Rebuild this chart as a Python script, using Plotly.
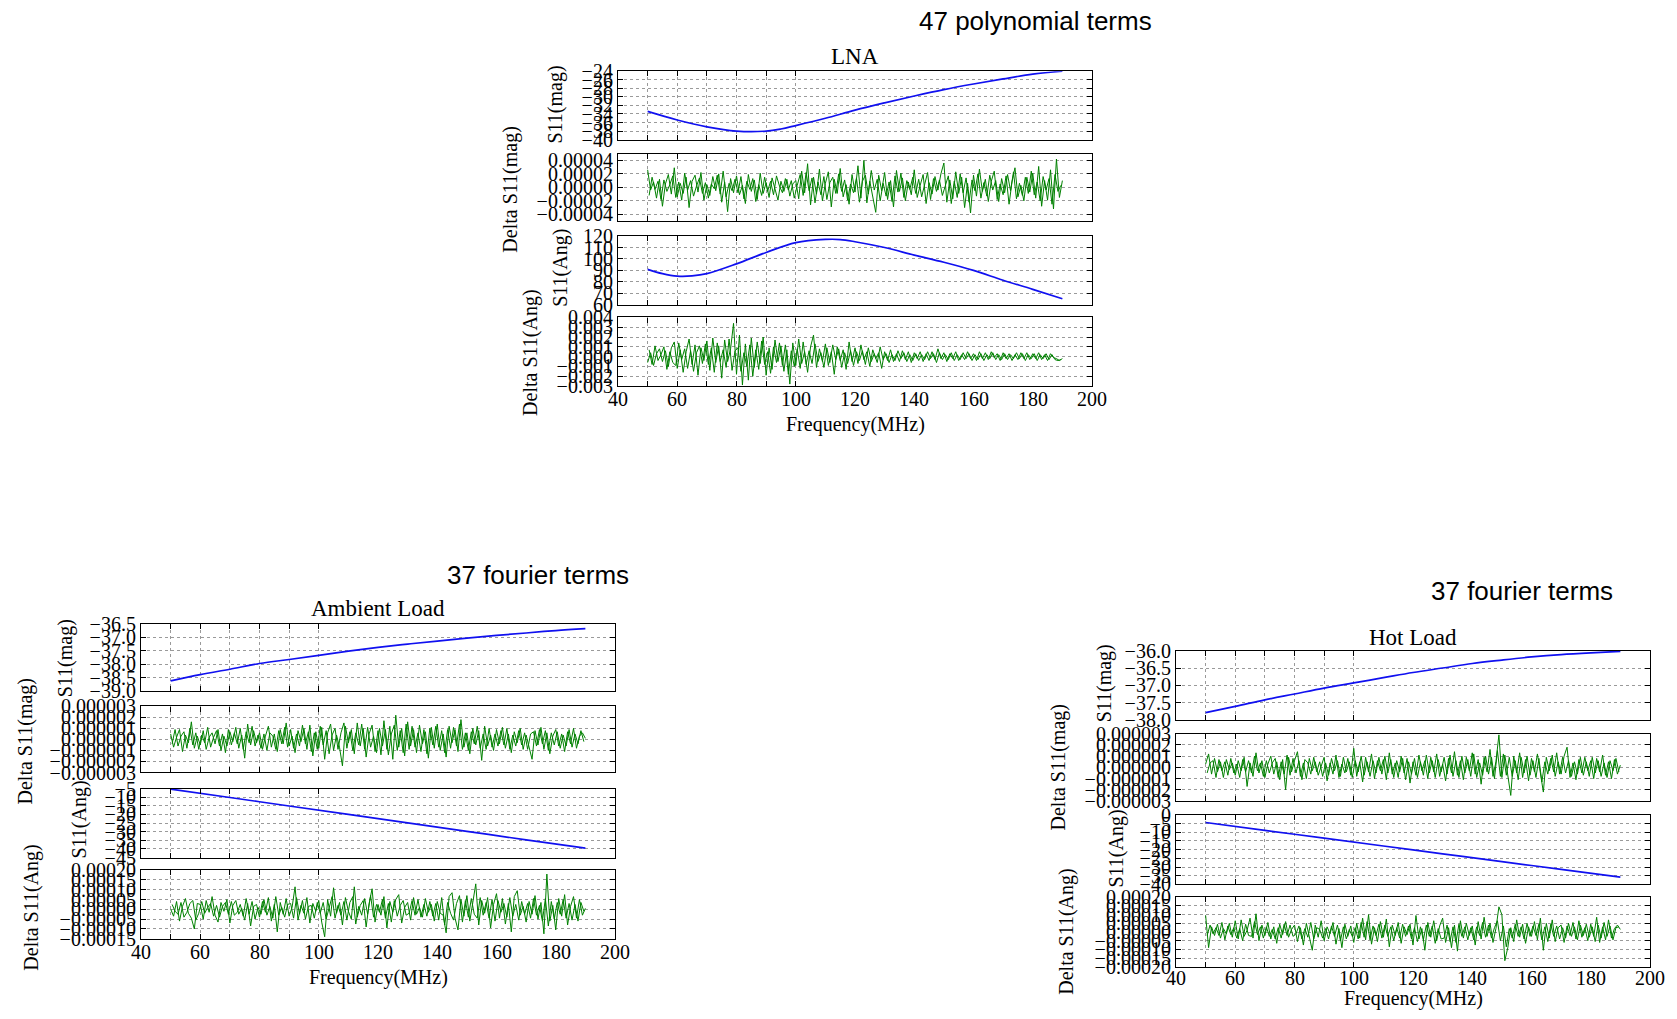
import plotly.graph_objects as go

# ---------------- data ----------------
# residual samples: at whole MHz (50..190) and at half MHz (50.5..189.5)
NOISE_FREQ_WHOLE_MHZ = list(range(50, 191))
NOISE_FREQ_HALF_MHZ = [f + 0.5 for f in range(50, 190)]

# LNA (47 polynomial terms)
LNA_MAG_FREQ = [50, 60, 70, 80, 90, 95, 100, 110, 120, 130, 140, 150, 160, 170, 180, 190]
LNA_MAG = [-33.4, -35.4, -37.0, -38.0, -38.0, -37.5, -36.7, -35.0, -33.1, -31.4, -29.8, -28.3, -27.0, -25.8, -24.7, -24.0]
LNA_ANG_FREQ = [50, 55, 60, 65, 70, 80, 90, 100, 110, 115, 120, 130, 140, 150, 160, 170, 180, 190]
LNA_ANG = [90.9, 87.1, 84.9, 85.1, 87.1, 95.7, 105.7, 114.3, 117.1, 117.0, 115.1, 110.0, 103.4, 97.1, 90.0, 81.4, 73.4, 65.1]
# residuals in units of 1e-5 (mag) and 1e-3 (ang)
LNA_DMAG_WHOLE_E5 = [
    2.6, -0.4, 0.8, -1.6, 1.2, -2.8, 0.5, 1.9, -1.0, 2.9,
    -1.4, 0.6, -0.9, 1.5, -3.0, 0.9, 1.8, -0.7, 2.2, -1.9,
    0.4, -1.2, 1.6, -0.5, 2.0, -2.2, 0.8, -3.6, 1.3, -0.8,
    1.7, -1.1, 0.3, -2.4, 1.9, -0.6, 1.1, -1.8, 2.1, -0.9,
    0.7, -1.5, 1.4, -0.3, -1.9, 0.9, -0.6, 1.2, -1.3, 0.5,
    1.0, -1.7, 2.4, -0.8, 3.5, -2.6, 1.5, -1.0, 2.7, -2.0,
    0.6, 2.3, -2.9, 1.2, -0.9, 2.8, -1.4, 0.4, -2.5, 1.9,
    -0.7, 3.2, -1.6, 4.0, -2.3, 0.9, -1.2, -3.7, 1.8, -0.5,
    2.2, -1.8, 1.0, -2.9, 2.5, -0.6, 1.4, -2.0, 0.8, -1.1,
    2.6, -1.5, 0.3, 1.9, -2.4, 0.7, -1.0, 1.6, -0.4, 2.0,
    3.6, -2.2, 1.1, -1.7, 2.3, -0.9, 1.5, -3.0, 0.6, -3.8,
    1.8, -1.3, 2.7, -0.6, 1.2, -2.1, 0.9, 2.4, -1.8, 0.5,
    -1.1, 1.7, -2.5, 0.8, 2.9, -1.4, 0.3, -2.0, 1.5, -0.7,
    2.1, -1.6, 3.1, -2.8, 1.0, -1.9, 2.6, -3.2, 4.2, -1.5,
    1.0]
LNA_DMAG_HALF_E5 = [
    -1.2, 1.5, -0.3, 0.9, -1.8, 1.1, -0.6, 0.4, 1.7, -1.5,
    0.8, -1.9, 2.1, -0.4, 1.0, -1.3, 0.2, 1.4, -0.9, 0.7,
    -1.6, 0.5, -0.2, 1.8, -1.0, 2.4, -1.4, 0.6, -0.5, 1.2,
    -0.8, 1.6, -1.7, 0.9, -0.3, 1.3, -2.1, 0.4, -1.2, 1.5,
    -0.6, 0.9, -1.1, 1.7, 0.2, -0.8, 1.3, -0.4, 1.0, -1.6,
    0.3, 1.9, -1.2, 2.2, -0.5, 1.4, -2.3, 0.8, -1.1, 1.6,
    -1.8, 0.7, 1.5, -0.9, 2.0, -0.6, 1.1, -1.9, 0.5, -0.8,
    1.4, -2.2, 0.9, 1.8, -1.0, 2.5, -0.4, 1.2, -2.0, 0.6,
    -1.3, 0.8, -2.1, 1.7, -0.7, 2.1, -1.5, 1.0, -0.3, 1.5,
    -0.9, 1.2, -1.4, 0.5, 2.2, -1.8, 1.3, -0.6, 1.1, -1.2,
    0.4, 1.7, -2.4, 0.9, -1.5, 2.0, -0.8, 1.4, -2.2, 1.1,
    -0.5, 2.0, -1.6, 0.7, -1.3, 1.8, -0.4, 1.0, -2.1, 1.3,
    -0.8, 1.9, -0.5, 2.3, -1.7, 0.6, -1.2, 1.5, -0.9, 2.4,
    -1.1, 0.8, -2.0, 1.6, -0.4, 1.3, -2.5, 1.9, -0.6, 0.3]
LNA_DANG_WHOLE_E3 = [
    -0.6, 0.4, -0.9, 0.3, 0.8, -0.5, 0.6, -1.0, 0.9, 1.5,
    -1.2, 0.7, -1.6, 0.5, 1.8, -0.8, 1.2, -1.9, 0.9, -0.4,
    1.6, -1.4, 1.9, -0.6, 1.1, -2.2, 1.7, -0.5, 0.8, 3.4,
    -1.8, 2.2, -2.9, 1.3, -2.4, 1.9, -1.1, 1.5, -0.7, 2.0,
    -1.9, 0.9, -1.3, 1.7, -0.5, 1.1, -1.5, 0.7, -2.8, 1.4,
    -0.9, 1.8, -0.7, 0.5, -1.6, 1.0, 2.2, -1.1, 0.8, -0.5,
    1.3, -0.9, 0.5, -1.8, 1.0, -0.4, 0.7, -1.3, 1.5, -0.5,
    0.9, -0.7, 1.2, -0.3, 0.5, -1.0, 0.7, -0.2, 0.4, -1.2,
    0.5, -0.4, 0.7, -0.5, 0.3, -0.5, 0.6, -0.3, 0.5, -0.6,
    0.4, -0.2, 0.5, -0.5, 0.3, -0.4, 0.5, -0.3, 0.8, -0.2,
    0.4, -0.5, 0.3, -0.2, 0.5, -0.4, 0.2, -0.3, 0.5, -0.2,
    0.3, -0.4, 0.5, -0.2, 0.4, -0.3, 0.5, -0.1, 0.3, -0.4,
    0.4, -0.2, 0.3, -0.4, 0.2, -0.3, 0.4, -0.2, 0.4, -0.3,
    0.3, -0.2, 0.4, -0.3, 0.2, -0.4, 0.3, -0.1, -0.2, -0.4,
    -0.2]
LNA_DANG_HALF_E3 = [
    0.7, -0.8, 1.1, -0.4, 0.2, 1.0, -1.3, 0.5, -0.6, -0.9,
    1.4, -0.3, 0.8, -1.2, 0.6, -1.5, 0.4, 1.1, -0.7, 1.3,
    -0.8, 0.9, -1.6, 1.4, -0.5, 0.7, -1.1, 1.8, -1.4, 0.6,
    0.9, -1.5, 0.4, -1.0, 1.2, -2.0, 0.7, -1.3, 1.6, -0.8,
    0.5, -1.7, 1.0, -0.6, 1.4, -0.9, 1.2, -1.8, 0.6, -1.0,
    0.8, -1.2, 1.5, -0.8, 0.6, -0.7, 1.3, -0.5, 0.4, -1.1,
    0.9, -0.6, 1.2, -0.3, 0.8, -1.1, 0.4, -0.7, 0.6, -0.9,
    0.5, -0.4, 0.6, -0.8, 0.9, -0.5, 0.3, -0.6, 1.0, -0.3,
    0.3, -0.6, 0.2, -0.4, 0.6, -0.2, 0.4, -0.5, 0.2, -0.4,
    0.3, -0.4, 0.2, -0.3, 0.5, -0.2, 0.3, -0.6, 0.4, -0.3,
    0.2, -0.3, 0.4, -0.4, 0.2, -0.3, 0.4, -0.2, 0.3, -0.4,
    0.2, -0.3, 0.3, -0.4, 0.2, -0.2, 0.4, -0.3, 0.2, -0.3,
    0.3, -0.3, 0.2, -0.2, 0.4, -0.2, 0.3, -0.4, 0.2, -0.2,
    0.3, -0.4, 0.2, -0.2, 0.3, -0.3, 0.2, -0.3, -0.4, -0.3]

# Ambient load (37 fourier terms)
AMB_MAG_FREQ = [50, 60, 70, 80, 90, 100, 110, 120, 130, 140, 150, 160, 170, 180, 190]
AMB_MAG = [-38.61, -38.38, -38.18, -37.97, -37.82, -37.67, -37.51, -37.37, -37.25, -37.14, -37.03, -36.93, -36.84, -36.75, -36.68]
AMB_ANG_FREQ = [50, 70, 90, 110, 130, 150, 170, 190]
AMB_ANG = [-5.3, -10.2, -15.1, -20.0, -24.9, -29.8, -34.7, -39.5]
# residuals in units of 1e-6 (mag) and 1e-5 (ang)
AMB_DMAG_WHOLE_E6 = [
    0.5, -0.7, 0.2, 0.9, -1.1, 0.4, -0.3, 1.6, -0.8, 0.3,
    -0.5, 0.8, -0.9, 0.2, 0.6, -0.4, 0.9, -1.0, 0.3, -0.6,
    0.7, -0.2, 1.1, -0.8, 0.4, -1.7, 1.4, -0.5, 0.8, -0.3,
    0.6, -0.9, 0.3, 1.2, -0.7, 0.5, -1.1, 0.9, -0.4, 1.5,
    -0.6, 0.3, -1.2, 0.8, -0.2, 1.0, -0.9, 1.3, -1.5, 0.7,
    -0.8, 1.1, -1.8, 0.6, 1.4, -1.0, 0.4, -0.7, -2.4, 1.2,
    -0.3, 0.9, -1.3, 1.5, -0.6, 1.0, -1.6, 0.5, 1.3, -1.1,
    0.8, -1.4, 1.7, -0.9, 1.2, -1.8, 2.2, -0.7, 1.0, -1.5,
    1.6, -0.6, 0.9, -1.2, 1.3, -0.4, 0.7, -1.7, 1.1, -0.8,
    1.4, -1.0, 0.5, -1.6, 1.2, -0.3, 0.9, -1.1, 1.8, -0.7,
    0.6, -1.3, 1.0, -0.5, 0.8, -1.9, 1.2, -0.6, 0.4, -1.0,
    0.9, -0.4, 1.1, -0.8, 0.5, -1.2, 0.7, -0.3, 1.0, -0.9,
    0.4, -0.7, -1.8, 0.8, -0.5, 1.1, -0.9, 0.6, -1.3, 0.3,
    0.9, -0.6, 0.5, -1.1, 0.7, -0.4, 1.0, -0.8, 0.3, 0.6,
    0.1]
AMB_DMAG_HALF_E6 = [
    -0.4, 0.9, -0.6, 0.3, 0.7, -0.8, 1.0, -0.5, 0.6, -0.9,
    0.4, -0.3, 1.1, -0.7, 0.2, 0.8, -0.6, 0.5, -1.2, 0.9,
    -0.5, 0.6, -0.4, 1.0, -0.9, 0.7, -0.3, 1.2, -0.6, 0.4,
    -0.8, 0.5, -1.0, 0.6, 0.3, -0.9, 0.8, -0.4, 1.1, -0.7,
    0.9, -0.8, 0.5, -0.6, 1.3, -0.4, 0.7, -1.1, 0.6, -0.9,
    1.2, -0.5, 0.8, -1.3, 0.4, 1.0, -0.9, 0.6, 1.5, -0.8,
    0.7, -1.0, 0.6, -0.5, 1.4, -0.9, 1.1, -0.7, 0.3, -1.2,
    1.0, -0.6, 0.9, -1.4, 0.5, 1.3, -1.0, 0.8, -1.2, 1.4,
    -0.9, 1.2, -0.7, 0.6, -1.1, 0.9, -1.3, 1.0, -0.5, 1.2,
    -0.7, 0.8, -1.2, 0.9, -0.8, 1.1, -0.6, 1.4, -0.9, 0.6,
    -1.0, 0.7, -0.4, 1.2, -0.8, 0.5, -0.9, 1.0, -0.7, 0.5,
    -0.6, 0.8, -0.5, 1.0, -0.9, 0.4, -0.6, 0.8, -0.5, 0.6,
    -0.9, 0.5, 0.7, -0.6, 0.9, -0.4, 0.8, -1.0, 0.6, -0.5,
    0.7, -0.8, 0.4, -0.6, 0.9, -0.7, 0.5, -0.4, 0.8, -0.2]
AMB_DANG_WHOLE_E5 = [
    0.2, -3.5, 4.0, -6.0, 1.5, 5.5, -2.0, -4.5, -10.0, 3.0,
    2.5, -5.0, 4.5, -1.5, 6.5, -3.0, -6.5, 3.5, -1.0, 5.0,
    -7.0, 2.0, 4.5, -2.5, 0.5, -5.5, 3.0, -8.5, 1.5, 2.5,
    -4.0, 4.0, -1.5, 6.0, -6.0, 2.5, -11.5, 3.5, -2.5, 5.5,
    -3.5, 1.0, 11.5, -5.5, 2.0, -2.0, 6.0, -7.0, 3.0, -1.0,
    4.5, -6.5, -14.0, 5.0, -3.5, 11.0, -2.0, 3.5, -8.0, 6.0,
    -1.0, -5.0, 11.5, -4.0, 2.0, 4.5, -9.0, 3.0, 10.5, -6.5,
    2.5, -3.0, 6.5, -9.5, 4.0, -1.5, 5.0, 7.5, -7.0, 1.0,
    3.5, -5.5, 6.0, -2.5, 1.0, -4.0, 5.5, -1.5, 2.5, -6.0,
    4.0, -2.0, -3.0, -12.0, 6.5, 8.5, -4.5, -10.5, 5.0, -3.5,
    7.0, -6.0, 3.5, 13.0, -8.0, 4.5, -2.0, 6.0, -9.5, 2.5,
    8.0, -4.5, 5.5, -7.5, 3.0, -11.5, 6.5, 9.5, -3.0, 1.5,
    -6.5, 4.0, -2.5, 7.0, -5.0, 3.5, -12.5, 18.0, -6.0, 2.0,
    -10.5, 5.5, -3.5, 7.5, -8.0, 1.5, 6.5, -4.5, 5.0, -3.0,
    0.5]
AMB_DANG_HALF_E5 = [
    2.5, -1.0, -2.5, 3.5, -4.0, -1.5, 3.0, 4.5, -5.5, -2.0,
    4.0, -2.0, 1.0, 3.0, -3.5, 2.0, -4.0, 1.5, 3.5, -2.5,
    4.0, -3.0, -1.5, 2.5, -3.5, 5.5, -2.5, 4.0, -5.0, 1.0,
    -2.5, 5.0, -3.0, 1.5, -4.5, 6.5, -3.0, 1.0, -4.0, 2.5,
    3.0, -4.5, 6.0, -2.5, 4.5, -5.0, 1.5, 2.0, -4.5, 3.5,
    -2.0, 3.5, -5.0, 1.0, 6.5, -4.5, 2.0, -3.0, 4.0, -5.5,
    3.5, 6.5, -7.5, 1.5, -3.0, 5.5, -2.5, 7.0, -4.0, 2.5,
    -1.5, 5.0, -4.5, 3.0, -6.5, 4.5, -3.5, 2.0, 4.5, -3.0,
    -2.0, 4.5, -3.0, 5.0, -4.0, 2.5, -3.5, 4.0, -3.5, 3.0,
    -5.5, 6.0, -8.0, 3.5, -2.0, -5.5, 3.0, 7.0, -6.5, 4.5,
    -4.0, 5.5, -2.5, -4.5, 6.0, -3.0, 3.5, -4.5, 5.0, -6.0,
    4.5, -1.5, 3.0, -4.0, 6.0, -3.5, 2.5, -5.5, 4.0, -2.5,
    3.0, -4.5, 5.5, -3.0, 2.0, -6.0, 5.5, -8.5, 4.0, -5.0,
    3.5, -2.5, 5.0, -4.5, 3.0, -5.5, 2.5, -6.0, 3.5, -1.0]

# Hot load (37 fourier terms)
HOT_MAG_FREQ = [50, 60, 70, 80, 90, 100, 110, 120, 130, 140, 150, 160, 170, 180, 190]
HOT_MAG = [-37.79, -37.61, -37.42, -37.25, -37.08, -36.93, -36.78, -36.63, -36.50, -36.37, -36.27, -36.18, -36.11, -36.06, -36.02]
HOT_ANG_FREQ = [50, 70, 90, 110, 130, 150, 170, 190]
HOT_ANG = [-4.4, -8.9, -13.4, -17.9, -22.4, -26.9, -31.3, -35.8]
HOT_DMAG_WHOLE_E6 = [
    0.3, 1.2, -0.6, 0.8, -0.4, 0.5, -0.9, 0.7, -0.2, 0.4,
    -0.7, 0.6, -0.3, 0.9, -1.7, 0.4, -0.8, 1.3, -0.5, 0.6,
    -0.9, 0.3, 1.0, -0.6, 0.5, -1.1, 0.7, -2.0, 0.9, -0.4,
    0.6, 1.4, -0.8, 0.4, -1.0, 0.8, -0.3, 0.5, -0.7, 0.2,
    0.9, -1.2, 0.4, -0.6, 1.1, -0.9, 0.3, -0.5, 0.8, -0.7,
    1.7, -0.8, 0.5, -1.3, 0.9, -0.4, 1.2, -1.0, 0.6, -0.3,
    0.7, -1.1, 1.3, -0.6, 0.4, -0.9, 1.0, -0.5, 0.8, -1.4,
    0.5, -0.7, 1.1, -0.3, 0.6, -1.0, 0.9, -0.4, 1.2, -0.8,
    0.3, -1.2, 0.8, -0.5, 1.4, -0.7, 0.6, -1.1, 0.9, -0.3,
    1.3, -0.6, 0.7, -1.5, 0.9, -0.4, 1.6, -0.8, 0.5, 2.9,
    -0.9, 1.1, -0.6, -2.5, 1.0, -0.5, 1.3, -0.9, 0.7, -1.2,
    0.8, -0.4, 1.2, -0.7, -2.2, 0.9, -0.3, 1.1, -0.8, 0.5,
    -0.6, 1.0, 1.8, -0.9, 0.4, -1.1, 0.7, -0.5, 0.9, -0.3,
    0.6, -1.0, 0.8, -0.4, 1.1, -0.7, 0.5, -1.0, 0.7, -0.6,
    0.2]
HOT_DMAG_HALF_E6 = [
    -0.5, 0.4, 0.6, -0.9, 0.7, -0.3, 0.5, -0.7, 0.8, -0.5,
    0.3, -0.9, 0.7, -0.4, 0.6, -0.5, 1.0, -0.3, 0.4, -0.8,
    0.6, -0.5, 0.4, 0.8, -0.9, 0.5, -0.6, 1.1, -0.7, 0.8,
    -0.5, 0.6, -1.1, 0.7, 0.4, -0.6, 0.9, -0.4, 0.5, -0.8,
    0.4, -0.7, 0.8, -0.3, 0.6, -0.8, 0.9, -0.4, 0.5, -0.9,
    0.6, -0.4, 1.0, -0.7, 0.5, -0.8, 0.6, -0.5, 0.9, -0.6,
    1.0, -0.5, 0.7, -0.9, 0.6, -0.4, 0.8, -1.1, 0.5, -0.6,
    0.8, -0.9, 0.5, -0.7, 1.1, -0.5, 0.6, -0.9, 0.7, -0.4,
    0.9, -0.6, 1.1, -0.8, 0.6, -0.9, 1.0, -0.5, 0.7, -0.8,
    1.2, -0.9, 0.4, -0.7, 1.0, -0.6, 0.9, -1.0, 1.5, -0.8,
    1.2, -0.7, 0.9, -0.8, 0.6, -1.1, 0.9, -0.5, 1.0, -0.7,
    0.6, -0.9, 0.8, -1.3, 0.5, -0.6, 0.8, -0.4, 1.3, -0.6,
    0.9, -0.5, 0.6, -0.8, 0.5, -0.6, 0.9, -0.7, 0.5, -0.8,
    0.9, -0.5, 0.6, -0.8, 0.4, -0.9, 0.6, -0.3, 0.8, -0.4]
HOT_DANG_WHOLE_E5 = [
    9.5, -9.0, 3.0, -2.0, 4.5, -3.5, 2.0, -1.0, 5.0, -3.0,
    6.5, -4.0, 7.0, -2.5, 1.0, 8.0, -3.5, 10.5, -5.0, 4.0,
    -2.0, 5.5, -4.0, 3.0, -6.5, 4.5, -1.5, 6.0, -3.0, 1.5,
    4.0, -5.5, 2.5, -7.5, 5.0, -2.0, -10.5, 4.0, -3.0, 6.5,
    -5.0, 3.0, -1.0, 5.5, -7.0, 2.0, -9.0, 4.5, -2.5, 3.5,
    -6.0, 5.0, -3.5, 8.0, -4.5, 10.0, -7.0, 2.5, -5.5, 6.0,
    -3.0, 7.5, -8.5, 4.0, -2.0, 5.5, -6.5, 3.0, -1.5, 4.5,
    -7.5, 9.5, -4.0, 2.0, -10.5, 5.5, -3.0, 6.5, -5.0, 3.5,
    8.0, -6.0, 2.5, -9.0, 4.0, -11.0, 6.5, -3.5, 5.0, -2.0,
    3.5, -7.5, 6.0, -4.0, 8.5, -2.5, 5.0, -6.0, 2.0, 14.5,
    10.0, -16.5, -9.0, 2.5, -5.5, 7.0, -3.0, 4.5, -6.5, 3.0,
    -2.5, 6.0, -4.5, 8.0, -10.5, 5.0, -3.5, 7.0, -5.5, 2.5,
    4.0, -6.0, 3.5, -2.0, 5.5, -4.0, 6.5, -3.0, 2.5, -5.0,
    4.5, -2.5, 8.5, -6.0, 3.0, -4.5, 7.0, -3.5, 2.0, 4.0,
    1.5]
HOT_DANG_HALF_E5 = [
    -2.0, 4.0, -1.0, 2.5, -2.0, 5.5, -4.5, 3.5, -1.5, 2.5,
    -3.5, 2.0, -5.0, 4.5, -2.0, -2.5, 6.0, -1.5, 3.0, -3.5,
    3.0, -2.5, 1.5, -4.0, 2.5, -3.5, 4.5, -2.0, 4.0, -2.5,
    -1.0, 3.5, -4.0, 2.0, -3.0, 5.5, -4.0, 2.5, 1.5, -3.5,
    2.0, -4.0, 3.5, -2.5, 4.0, -5.0, 3.0, -4.0, 1.5, -2.5,
    2.5, -4.0, 5.5, -3.0, 6.0, -4.5, 3.5, -2.0, 4.5, -3.5,
    4.0, -2.5, 3.0, -5.0, 2.5, -3.5, 4.5, -2.5, 3.5, -4.0,
    2.5, -5.5, 3.0, -4.5, 4.0, -2.5, 3.5, -6.5, 2.0, -4.0,
    -3.5, 4.0, -5.5, 3.0, -6.0, 4.5, -2.5, 3.0, -4.5, 2.5,
    -4.5, 3.0, -2.0, 5.5, -3.0, 4.0, -3.5, 2.5, 6.5, -5.0,
    3.5, -8.5, 2.0, -3.5, 4.5, -2.5, 3.0, -4.0, 5.0, -2.5,
    3.5, -2.0, 4.5, -4.5, 3.0, -5.5, 4.5, -2.5, 3.5, -4.0,
    2.5, -3.5, 5.0, -2.5, 3.0, -4.5, 4.0, -2.0, 4.5, -3.0,
    3.0, -5.5, 4.0, -3.5, 5.5, -2.5, 3.5, -4.5, 2.5, 3.0]

# axis ticks
X_LABEL_TICKS = [40, 60, 80, 100, 120, 140, 160, 180, 200]
X_GRID_TICKS = [50, 60, 70, 80, 90, 100]
LNA_MAG_TICKS = [-40, -38, -36, -34, -32, -30, -28, -26, -24]
LNA_DMAG_TICKS = [-0.00004, -0.00002, 0.0, 0.00002, 0.00004]
LNA_ANG_TICKS = [60, 70, 80, 90, 100, 110, 120]
LNA_DANG_TICKS = [-0.003, -0.002, -0.001, 0.0, 0.001, 0.002, 0.003, 0.004]
AMB_MAG_TICKS = [-39.0, -38.5, -38.0, -37.5, -37.0, -36.5]
DMAG_E6_TICKS = [-0.000003, -0.000002, -0.000001, 0.0, 0.000001, 0.000002, 0.000003]
AMB_ANG_TICKS = [-45, -40, -35, -30, -25, -20, -15, -10, -5]
AMB_DANG_TICKS = [-0.00015, -0.0001, -0.00005, 0.0, 0.00005, 0.0001, 0.00015, 0.0002]
HOT_MAG_TICKS = [-38.0, -37.5, -37.0, -36.5, -36.0]
HOT_ANG_TICKS = [-40, -35, -30, -25, -20, -15, -10, -5, 0]
HOT_DANG_TICKS = [-0.0002, -0.00015, -0.0001, -0.00005, 0.0, 0.00005, 0.0001, 0.00015, 0.0002]

# ---------------- layout helpers ----------------
W, H = 1677, 1019
SERIF = "Liberation Serif, Times New Roman, serif"
SANS = "Liberation Sans, Arial, sans-serif"
BLUE = "#1010f0"
GREEN = "#008000"


def py(y, lo=0, hi=H):
    """vertical page position for a target pixel row (compensates the page capture)"""
    v = (y - 11.6) / 0.977
    return min(max(v, lo), hi)


def fmt(vals, dec):
    out = []
    for v in vals:
        s = f"{abs(v):.{dec}f}"
        out.append(("\u2212" + s) if v < 0 else s)
    return out


def scale(vals, unit):
    return [v * unit for v in vals]


def smooth(fx, fy):
    return [(fx, fy)]


def noise(whole, half, unit):
    return [(NOISE_FREQ_WHOLE_MHZ, scale(whole, unit)), (NOISE_FREQ_HALF_MHZ, scale(half, unit))]


groups = [
    dict(name="LNA", sup="47 polynomial terms", x0=618, x1=1092,
         rows=[(71.7, 140.1), (154, 221.4), (236.4, 304.8), (317.6, 386.1)],
         title_y=57, sup_xy=(1035, 19.3), xlab_y=424.6, tick_dy=13,
         ylab=[(556, 105), (511, 190), (561, 268), (531, 353)],
         series=[
             (smooth(LNA_MAG_FREQ, LNA_MAG), BLUE, [-40, -24], LNA_MAG_TICKS, 0),
             (noise(LNA_DMAG_WHOLE_E5, LNA_DMAG_HALF_E5, 1e-5), GREEN, [-0.00005, 0.00005], LNA_DMAG_TICKS, 5),
             (smooth(LNA_ANG_FREQ, LNA_ANG), BLUE, [60, 120], LNA_ANG_TICKS, 0),
             (noise(LNA_DANG_WHOLE_E3, LNA_DANG_HALF_E3, 1e-3), GREEN, [-0.003, 0.004], LNA_DANG_TICKS, 3),
         ]),
    dict(name="Ambient Load", sup="37 fourier terms", x0=141, x1=615,
         rows=[(623.5, 691), (706, 772), (788, 857), (869.5, 938)],
         title_y=608.5, sup_xy=(538, 575), xlab_y=976.4, tick_dy=14,
         ylab=[(65, 658), (25, 741), (80, 819), (32, 907)],
         series=[
             (smooth(AMB_MAG_FREQ, AMB_MAG), BLUE, [-39.0, -36.5], AMB_MAG_TICKS, 1),
             (noise(AMB_DMAG_WHOLE_E6, AMB_DMAG_HALF_E6, 1e-6), GREEN, [-0.000003, 0.000003], DMAG_E6_TICKS, 6),
             (smooth(AMB_ANG_FREQ, AMB_ANG), BLUE, [-45, -5], AMB_ANG_TICKS, 0),
             (noise(AMB_DANG_WHOLE_E5, AMB_DANG_HALF_E5, 1e-5), GREEN, [-0.00015, 0.0002], AMB_DANG_TICKS, 5),
         ]),
    dict(name="Hot Load", sup="37 fourier terms", x0=1176, x1=1650,
         rows=[(650.4, 719.5), (733.3, 800.5), (814.3, 883.8), (896.6, 966)],
         title_y=637, sup_xy=(1522, 591), xlab_y=1006.4, tick_dy=11,
         ylab=[(1104, 683), (1058, 767), (1117, 848), (1067, 931)],
         series=[
             (smooth(HOT_MAG_FREQ, HOT_MAG), BLUE, [-38.0, -36.0], HOT_MAG_TICKS, 1),
             (noise(HOT_DMAG_WHOLE_E6, HOT_DMAG_HALF_E6, 1e-6), GREEN, [-0.000003, 0.000003], DMAG_E6_TICKS, 6),
             (smooth(HOT_ANG_FREQ, HOT_ANG), BLUE, [-40, 0], HOT_ANG_TICKS, 0),
             (noise(HOT_DANG_WHOLE_E5, HOT_DANG_HALF_E5, 1e-5), GREEN, [-0.0002, 0.0002], HOT_DANG_TICKS, 5),
         ]),
]

YLABELS = ["S11(mag)", "Delta S11(mag)", "S11(Ang)", "Delta S11(Ang)"]

fig = go.Figure()
layout = {}
annotations = []
GRID = "#9a9a9a"
TICKFONT = dict(family=SERIF, size=20, color="black")

idx = 0
for g in groups:
    for r, (top, bot) in enumerate(g["rows"]):
        idx += 1
        parts, color, yrange, yt, dec = g["series"][r]
        xa, ya = f"x{idx}", f"y{idx}"
        is_line = color == BLUE
        for xs, ys in parts:
            fig.add_trace(go.Scatter(
                x=xs, y=ys, mode="lines", xaxis=xa, yaxis=ya,
                line=dict(color=color, width=1.7 if is_line else 1.0,
                          shape="spline" if is_line else "linear"),
                showlegend=False, hoverinfo="skip"))
        layout[f"xaxis{idx}"] = dict(
            domain=[g["x0"] / W, g["x1"] / W], anchor=ya, range=[40, 200],
            tickvals=X_GRID_TICKS, ticktext=[""] * len(X_GRID_TICKS),
            ticks="inside", ticklen=5, tickcolor="black", mirror="allticks",
            showline=True, linecolor="black", linewidth=1.2,
            showgrid=True, gridcolor=GRID, griddash="dot", gridwidth=1,
            zeroline=False, fixedrange=True)
        layout[f"yaxis{idx}"] = dict(
            domain=[1 - py(bot) / H, 1 - py(top) / H], anchor=xa, range=yrange,
            tickvals=yt, ticktext=fmt(yt, dec), tickfont=TICKFONT,
            ticks="inside", ticklen=5, tickcolor="black", mirror="allticks",
            showline=True, linecolor="black", linewidth=1.2,
            showgrid=True, gridcolor=GRID, griddash="dot", gridwidth=1,
            zeroline=False, fixedrange=True)
        lx, ly = g["ylab"][r]
        annotations.append(dict(
            text=YLABELS[r], x=lx / W, y=1 - py(ly) / H, xref="paper", yref="paper",
            textangle=-90, showarrow=False, xanchor="center", yanchor="middle",
            font=dict(family=SERIF, size=20, color="black")))
    # frequency tick labels under the bottom panel, placed through its x axis
    bidx = idx
    bottom = py(g["rows"][-1][1])
    for v in X_LABEL_TICKS:
        annotations.append(dict(
            text=str(v), x=v, xref=f"x{bidx}", y=1 - (bottom + g["tick_dy"]) / H, yref="paper",
            showarrow=False, xanchor="center", yanchor="middle", font=TICKFONT))
    cx = (g["x0"] + g["x1"]) / 2
    annotations.append(dict(
        text=g["name"], x=cx / W, y=1 - py(g["title_y"]) / H, xref="paper", yref="paper",
        showarrow=False, xanchor="center", yanchor="middle",
        font=dict(family=SERIF, size=23, color="black")))
    annotations.append(dict(
        text="Frequency(MHz)", x=cx / W, y=1 - py(g["xlab_y"], hi=1009) / H,
        xref="paper", yref="paper",
        showarrow=False, xanchor="center", yanchor="middle",
        font=dict(family=SERIF, size=20, color="black")))
    sx, sy = g["sup_xy"]
    annotations.append(dict(
        text=g["sup"], x=sx / W, y=1 - py(sy, lo=10.5) / H, xref="paper", yref="paper",
        showarrow=False, xanchor="center", yanchor="middle",
        font=dict(family=SANS, size=26, color="black")))

fig.update_layout(
    width=W, height=H, margin=dict(l=0, r=0, t=0, b=0),
    paper_bgcolor="white", plot_bgcolor="white",
    annotations=annotations, showlegend=False, **layout)

fig.write_html("out.html", config={"displayModeBar": False},
               post_script="document.body.style.margin='0px';document.body.style.overflow='hidden';")
